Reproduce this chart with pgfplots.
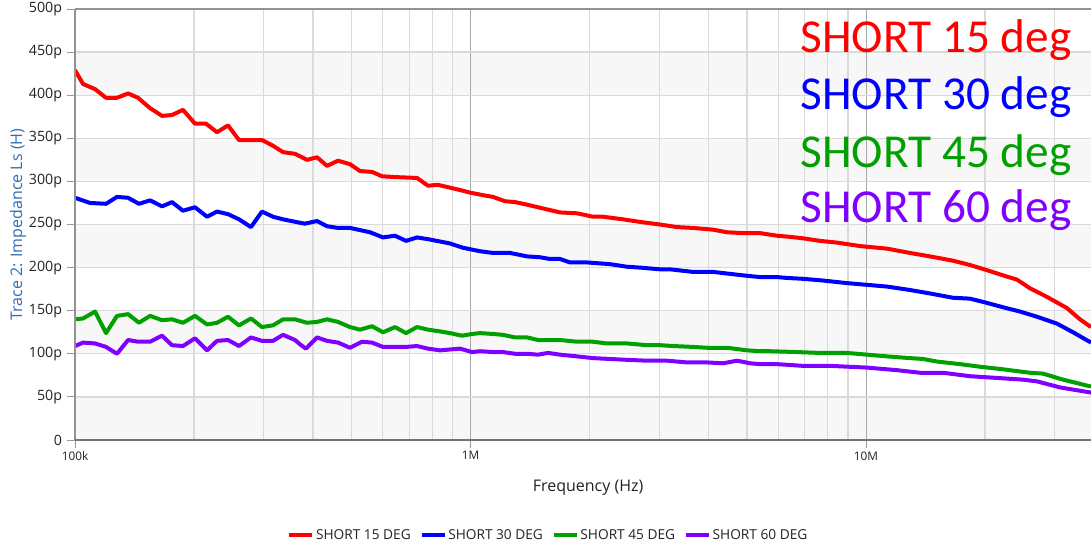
\documentclass[border=0pt]{standalone}
\usepackage{fontspec}
\setmainfont{Open Sans}
\newfontfamily\carlito{Carlito}
\usepackage{pgfplots}
\pgfplotsset{compat=1.18}
\definecolor{cRed}{RGB}{255,0,0}
\definecolor{cBlue}{RGB}{0,0,255}
\definecolor{cGreen}{RGB}{0,160,0}
\definecolor{cPurple}{RGB}{128,0,255}
\definecolor{ylab}{RGB}{46,110,180}
\definecolor{band}{RGB}{247,247,247}
\definecolor{gridc}{RGB}{218,218,218}
\definecolor{majgrid}{RGB}{168,168,168}
\definecolor{tickc}{RGB}{34,34,34}
\begin{document}
\begin{tikzpicture}
\begin{axis}[
  set layers,
  name=ax, at={(0,0)}, anchor=south west,
  scale only axis, width=1016bp, height=431bp,
  xmode=log, xmin=1e5, xmax=3.706e7, ymin=0, ymax=500,
  axis line style={draw=none},
  xtick={1e5,1e6,1e7}, xticklabels={100k,1M,10M},
  minor xtick={2e5,3e5,4e5,5e5,6e5,7e5,8e5,9e5,2e6,3e6,4e6,5e6,6e6,7e6,8e6,9e6,2e7,3e7},
  ytick={0,50,100,150,200,250,300,350,400,450,500},
  yticklabels={0,50p,100p,150p,200p,250p,300p,350p,400p,450p,500p},
  grid=both,
  major grid style={gridc, line width=1.3bp},
  minor grid style={gridc, line width=1.3bp},
  major x grid style={majgrid, line width=1bp},
  tick pos=left, tick align=outside,
  major tick length=8bp, minor tick length=0bp,
  tick style={color=gray!80, line width=1bp},
  yticklabel style={font=\fontsize{14.2bp}{16bp}\selectfont, text=tickc, xshift=-1.5bp},
  xticklabel style={font=\fontsize{11.8bp}{14bp}\selectfont, text=tickc},
  xlabel={Frequency (Hz)},
  ylabel={Trace 2: Impedance Ls (H)},
  every axis x label/.style={at={(axis description cs:0.505,-0.1114)}, anchor=center, font=\fontsize{16bp}{19bp}\selectfont, text=tickc},
  every axis y label/.style={at={(axis description cs:-0.0561,0.5)}, rotate=90, anchor=center, font=\fontsize{16bp}{19bp}\selectfont, text=ylab},
  legend columns=4,
  legend style={draw=none, fill=none, at={(axis description cs:0.466,-0.2204)}, anchor=center,
    font=\fontsize{13.7bp}{15bp}\selectfont, text=tickc,
    /tikz/every even column/.append style={column sep=7bp}},
  legend image code/.code={\draw[#1, line width=3.5bp] (0bp,0bp) -- (23bp,0bp);},
  every axis plot/.append style={line width=4bp, line join=round},
]
\begin{pgfonlayer}{axis background}
\fill[band] (rel axis cs:0,0) rectangle (rel axis cs:1,0.1);
\fill[band] (rel axis cs:0,0.2) rectangle (rel axis cs:1,0.3);
\fill[band] (rel axis cs:0,0.4) rectangle (rel axis cs:1,0.5);
\fill[band] (rel axis cs:0,0.6) rectangle (rel axis cs:1,0.7);
\fill[band] (rel axis cs:0,0.8) rectangle (rel axis cs:1,0.9);
\end{pgfonlayer}

\addplot[cRed] coordinates {
(1e5,429)(1.048e5,413)(1.124e5,407)(1.198e5,397)(1.277e5,397)(1.362e5,402)(1.443e5,397)
(1.548e5,385)(1.660e5,376)(1.759e5,377)(1.875e5,383)(2.011e5,367)(2.144e5,367)(2.286e5,357)
(2.437e5,365)(2.598e5,348)(2.770e5,348)(2.970e5,348)(3.149e5,342)(3.357e5,334)(3.600e5,332)
(3.860e5,325)(4.092e5,328)(4.337e5,318)(4.624e5,324)(4.958e5,320)(5.256e5,312)(5.636e5,311)
(5.974e5,306)(6.443e5,305)(7.324e5,304)(7.808e5,295)(8.276e5,296)(9.407e5,290)(9.971e5,287)
(1.076e6,284)(1.140e6,282)(1.222e6,277)(1.296e6,276)(1.390e6,273)(1.481e6,270)(1.684e6,264)
(1.859e6,263)(2.040e6,259)(2.163e6,259)(2.430e6,256)(2.683e6,253)(3.014e6,250)(3.328e6,247)
(3.653e6,246)(4.104e6,244)(4.452e6,241)(4.887e6,240)(5.395e6,240)(5.956e6,237)(6.313e6,236)
(6.929e6,234)(7.651e6,231)(8.447e6,229)(9.657e6,225)(1.1300e7,222)(1.2918e7,217)(1.4513e7,213)
(1.6595e7,208)(1.8323e7,203)(2.0230e7,197)(2.2203e7,191)(2.4085e7,186)(2.5979e7,176)
(2.8683e7,166)(3.2227e7,153)(3.4761e7,140)(3.7060e7,131)
};
\addlegendentry{SHORT 15 DEG}

\addplot[cBlue] coordinates {
(1e5,281)(1.091e5,275)(1.198e5,274)(1.277e5,282)(1.362e5,281)(1.452e5,274)(1.548e5,278)
(1.660e5,271)(1.759e5,276)(1.875e5,266)(2.011e5,270)(2.157e5,259)(2.286e5,265)(2.437e5,262)
(2.598e5,256)(2.786e5,247)(2.970e5,265)(3.167e5,259)(3.357e5,256)(3.706e5,252)(3.815e5,251)
(4.092e5,254)(4.337e5,248)(4.624e5,246)(4.958e5,246)(5.571e5,241)(6.009e5,235)(6.443e5,237)
(6.870e5,231)(7.324e5,235)(7.808e5,233)(8.875e5,228)(9.573e5,223)(1.057e6,219)(1.140e6,217)
(1.259e6,217)(1.390e6,213)(1.499e6,212)(1.588e6,210)(1.684e6,210)(1.785e6,206)(1.970e6,206)
(2.253e6,204)(2.487e6,201)(2.683e6,200)(3.014e6,198)(3.195e6,198)(3.653e6,195)(4.104e6,195)
(4.887e6,191)(5.395e6,189)(5.956e6,189)(6.313e6,188)(6.929e6,187)(7.786e6,185)(8.954e6,182)
(1.0058e7,180)(1.1300e7,178)(1.2918e7,174)(1.4513e7,170)(1.6595e7,165)(1.8323e7,164)
(2.0230e7,159)(2.2203e7,154)(2.4509e7,149)(2.7061e7,143)(3.0405e7,135)(3.3373e7,125)(3.7060e7,113)
};
\addlegendentry{SHORT 30 DEG}

\addplot[cGreen] coordinates {
(1e5,140)(1.048e5,141)(1.124e5,149)(1.198e5,124)(1.277e5,144)(1.362e5,146)(1.452e5,136)
(1.548e5,144)(1.660e5,139)(1.759e5,140)(1.875e5,136)(2.011e5,144)(2.157e5,134)(2.286e5,136)
(2.437e5,143)(2.598e5,133)(2.786e5,141)(2.970e5,131)(3.167e5,133)(3.357e5,140)(3.600e5,140)
(3.860e5,136)(4.092e5,137)(4.337e5,140)(4.624e5,137)(4.958e5,131)(5.256e5,128)(5.636e5,132)
(6.009e5,125)(6.443e5,131)(6.870e5,124)(7.324e5,131)(7.808e5,128)(8.373e5,126)(8.875e5,124)
(9.517e5,121)(1.009e6,123)(1.057e6,124)(1.140e6,123)(1.208e6,122)(1.296e6,119)(1.390e6,119)
(1.481e6,116)(1.684e6,116)(1.859e6,114)(2.040e6,114)(2.214e6,112)(2.487e6,112)(2.794e6,110)
(3.014e6,110)(3.251e6,109)(3.653e6,108)(3.963e6,107)(4.452e6,107)(5.002e6,104)(5.395e6,103)
(5.718e6,103)(6.691e6,102)(7.651e6,101)(8.954e6,101)(1.0058e7,99)(1.1300e7,97)(1.2918e7,95)
(1.3934e7,94)(1.5118e7,91)(1.7285e7,88)(1.9422e7,85)(2.2203e7,82)(2.5979e7,78)(2.8023e7,77)
(3.1486e7,70)(3.7060e7,62)
};
\addlegendentry{SHORT 45 DEG}

\addplot[cPurple] coordinates {
(1e5,109)(1.048e5,113)(1.124e5,112)(1.198e5,108)(1.277e5,100)(1.362e5,116)(1.443e5,114)
(1.548e5,114)(1.660e5,121)(1.759e5,110)(1.875e5,109)(2.011e5,118)(2.157e5,104)(2.286e5,115)
(2.437e5,116)(2.598e5,109)(2.786e5,119)(2.970e5,115)(3.167e5,115)(3.357e5,122)(3.600e5,116)
(3.706e5,111)(3.838e5,106)(4.092e5,119)(4.337e5,115)(4.624e5,113)(4.958e5,107)(5.317e5,114)
(5.636e5,113)(6.009e5,108)(6.443e5,108)(6.870e5,108)(7.324e5,109)(7.808e5,106)(8.373e5,104)
(9.407e5,106)(1.009e6,102)(1.057e6,103)(1.140e6,102)(1.208e6,102)(1.296e6,100)(1.390e6,100)
(1.481e6,99)(1.570e6,101)(1.684e6,99)(1.859e6,97)(2.040e6,95)(2.253e6,94)(2.487e6,93)
(2.794e6,92)(3.140e6,92)(3.527e6,90)(3.963e6,90)(4.350e6,89)(4.719e6,92)(5.090e6,89)
(5.395e6,88)(5.956e6,88)(6.929e6,86)(8.110e6,86)(1.0058e7,84)(1.1977e7,81)(1.3693e7,78)
(1.5655e7,78)(1.8323e7,74)(2.1441e7,72)(2.4941e7,70)(2.7061e7,68)(3.0941e7,61)(3.7060e7,55)
};
\addlegendentry{SHORT 60 DEG}

\begin{pgfonlayer}{axis foreground}
\draw[color=gray!85, line width=1.2bp] (rel axis cs:0,0) -- (rel axis cs:0,1);
\draw[color=gray!85, line width=1.2bp] (rel axis cs:0,1) -- (rel axis cs:1,1);
\draw[color=black!55, line width=2.5bp] (rel axis cs:0,0) -- (rel axis cs:1,0);
\end{pgfonlayer}

\node[anchor=base west, inner sep=0pt, text=cRed, font=\carlito\fontsize{47.3bp}{50bp}\selectfont] at (rel axis cs:0.7140,0.9002) {SHORT 15 deg};
\node[anchor=base west, inner sep=0pt, text=cBlue, font=\carlito\fontsize{47.3bp}{50bp}\selectfont] at (rel axis cs:0.7140,0.7657) {SHORT 30 deg};
\node[anchor=base west, inner sep=0pt, text=cGreen, font=\carlito\fontsize{47.3bp}{50bp}\selectfont] at (rel axis cs:0.7140,0.6334) {SHORT 45 deg};
\node[anchor=base west, inner sep=0pt, text=cPurple, font=\carlito\fontsize{47.3bp}{50bp}\selectfont] at (rel axis cs:0.7140,0.5035) {SHORT 60 deg};
\end{axis}
\pgfresetboundingbox
\path (-75bp,-103bp) rectangle (1016bp,440bp);
\end{tikzpicture}
\end{document}
